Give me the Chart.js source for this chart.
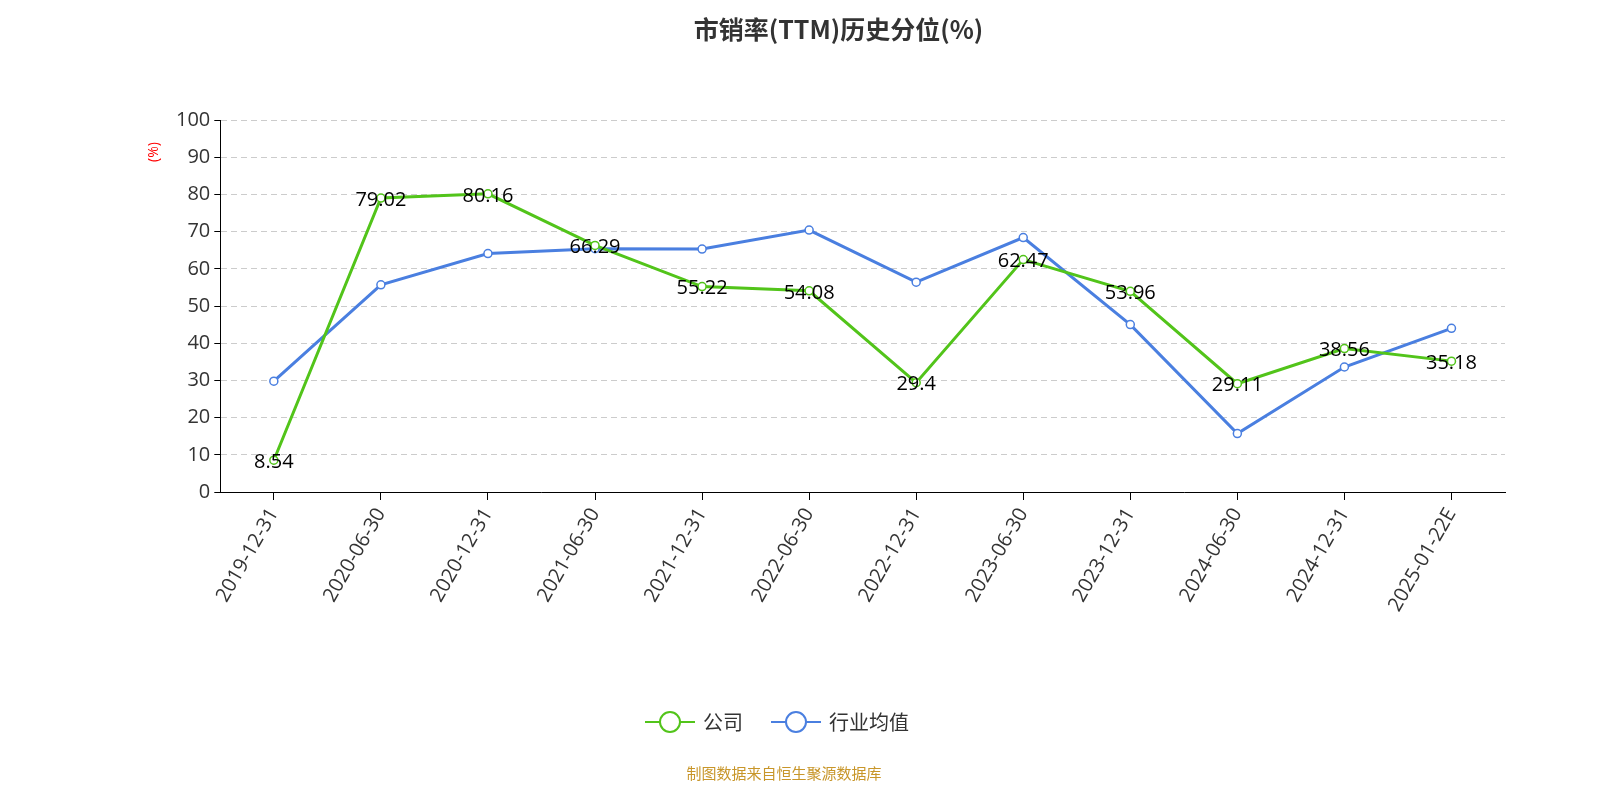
<!DOCTYPE html>
<html><head><meta charset="utf-8">
<script src="https://cdn.jsdelivr.net/npm/chart.js@4/dist/chart.umd.min.js"></script>
<style>html,body{margin:0;padding:0;background:#fff}#w{position:relative;width:1600px;height:800px}</style>
</head><body><div id="w"><canvas id="c" width="1600" height="800"></canvas></div>
<script>
const categories=['2019-12-31','2020-06-30','2020-12-31','2021-06-30','2021-12-31','2022-06-30','2022-12-31','2023-06-30','2023-12-31','2024-06-30','2024-12-31','2025-01-22E'];
const companyValues=[8.54,79.02,80.16,66.29,55.22,54.08,29.4,62.47,53.96,29.11,38.56,35.18];
const industryValues=[29.8,55.7,64.1,65.4,65.3,70.4,56.4,68.4,45.0,15.7,33.6,44.0];
const yTicks=[0,10,20,30,40,50,60,70,80,90,100];
const seriesNames=['公司','行业均值'];
const seriesColors=['#52c41a','#4a7fe0'];
const F='"Open Sans","Noto Sans CJK SC",sans-serif';
const extra={id:'extra',afterDatasetsDraw(ch){
  const ctx=ch.ctx;ctx.save();
  const m=ch.getDatasetMeta(0);
  ctx.font='20px '+F;ctx.fillStyle='#000';ctx.textAlign='center';ctx.textBaseline='middle';
  m.data.forEach((p,i)=>ctx.fillText(String(companyValues[i]),p.x,p.y+2));
  ctx.save();ctx.translate(154,152);ctx.rotate(-Math.PI/2);ctx.fillStyle='#f00';ctx.font='14px '+F;ctx.fillText('(%)',0,0);ctx.restore();
  // legend
  let x=645;const y=722;ctx.font='20px "Noto Sans CJK SC",sans-serif';ctx.textAlign='left';
  seriesNames.forEach((n,i)=>{
    ctx.strokeStyle=seriesColors[i];ctx.lineWidth=2;ctx.beginPath();ctx.moveTo(x,y);ctx.lineTo(x+50,y);ctx.stroke();
    ctx.fillStyle='#fff';ctx.beginPath();ctx.arc(x+25,y,10,0,Math.PI*2);ctx.fill();ctx.stroke();
    ctx.fillStyle='#333';ctx.fillText(n,x+58,y);
    x+=58+ctx.measureText(n).width+28;
  });
  ctx.font='15px "Noto Sans CJK SC",sans-serif';ctx.fillStyle='#c8962a';ctx.textAlign='center';ctx.fillText('制图数据来自恒生聚源数据库',784,773);
  ctx.restore();
}};
new Chart(document.getElementById('c'),{type:'line',
data:{labels:categories,datasets:[
{label:'公司',data:companyValues,borderColor:seriesColors[0],backgroundColor:'#fff',borderWidth:3,pointRadius:4,pointBorderWidth:1.5,pointBackgroundColor:'#fff',tension:0},
{label:'行业均值',data:industryValues,borderColor:seriesColors[1],backgroundColor:'#fff',borderWidth:3,pointRadius:4,pointBorderWidth:1.5,pointBackgroundColor:'#fff',tension:0}]},
options:{responsive:false,animation:false,
layout:{padding:{left:172,right:95,top:10,bottom:180}},
plugins:{title:{display:true,text:'市销率(TTM)历史分位(%)',font:{size:25,weight:'bold',family:'"Noto Sans CJK SC",sans-serif'},color:'#333',padding:{top:4,bottom:76}},
legend:{display:false},tooltip:{enabled:false}},
scales:{x:{offset:true,grid:{display:true,drawOnChartArea:false,drawTicks:true,tickColor:'#000',tickLength:8},border:{color:'#000'},ticks:{color:'#333',font:{size:20,family:F},maxRotation:60,minRotation:60,padding:4}},
y:{min:0,max:100,afterBuildTicks:a=>{a.ticks=yTicks.map(v=>({value:v}));},border:{display:true,color:'#000',dash:[6,4]},
grid:{color:'#ccc',drawTicks:true,tickColor:'#000',tickLength:6},ticks:{color:'#333',font:{size:20,family:F},padding:4}}}},
plugins:[extra]});
</script></body></html>
